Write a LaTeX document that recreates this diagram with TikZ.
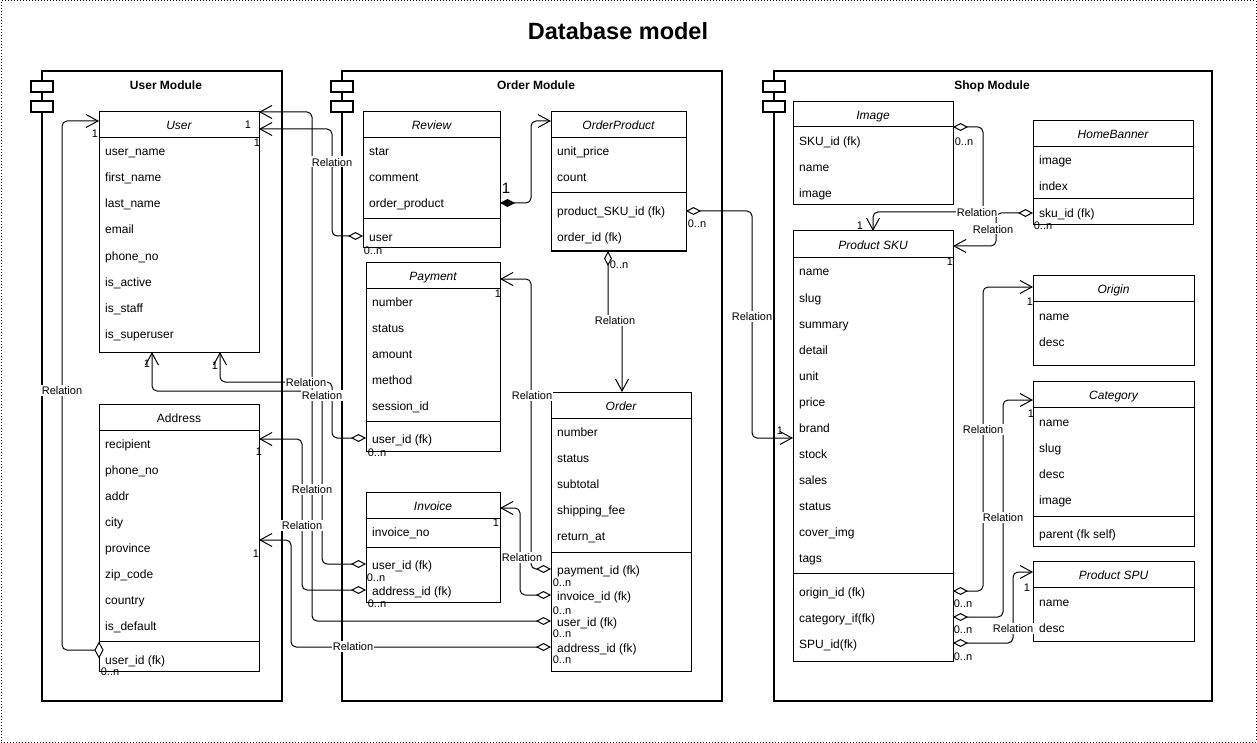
\documentclass[tikz,border=0pt]{standalone}
\usepackage{fontspec}
\setmainfont{Liberation Sans}
\usetikzlibrary{arrows.meta,calc}

\tikzset{
  frame/.style={draw, dotted, line width=1pt, outer sep=0pt, inner sep=0pt},
  modbox/.style={draw, line width=2pt, outer sep=0pt, inner sep=0pt},
  modlbl/.style={font=\fontsize{12}{14}\selectfont\bfseries, inner sep=0pt, text height=11pt, text depth=1pt},
  icon/.style={draw, fill=white, line width=1.5pt, minimum width=22pt, minimum height=11pt, inner sep=0pt},
  clsbox/.style={draw, line width=1pt, fill=white, outer sep=0pt, inner sep=0pt},
  clsline/.style={line width=1pt},
  ttl/.style={font=\fontsize{12}{14}\selectfont\itshape, inner sep=0pt, text height=11pt, text depth=1pt},
  attr/.style={anchor=west, inner sep=0pt, font=\fontsize{12}{14}\selectfont, text height=11pt, text depth=1pt},
  rel/.style={fill=white, inner ysep=0.5pt, inner xsep=1pt, font=\fontsize{11}{13}\selectfont, text height=9.5pt, text depth=0.5pt},
  mult/.style={inner sep=0pt, font=\fontsize{11}{13}\selectfont, text height=9.5pt, text depth=0.5pt},
  conn/.style={draw, line width=1pt, rounded corners=5pt},
  agg/.style={conn, {Diamond[open, length=15pt, width=8pt]}-{Straight Barb[length=12pt, width=13pt]}},
  comp/.style={conn, {Diamond[length=15pt, width=8pt]}-{Straight Barb[length=12pt, width=13pt]}},
  barb/.style={conn, -{Straight Barb[length=12pt, width=13pt]}},
}

\newcommand\umlcls[7]{%
  \node[clsbox, minimum width=#4pt, minimum height=#5pt, anchor=north west] (#1) at (#2,#3) {};
  \node[ttl] (#1-title) at ($(#1.north)+(0,#6/2)$) {#7};
  \draw[clsline] ($(#1.north west)+(0,#6)$) -- ($(#1.north east)+(0,#6)$);
}
\newcommand\umlsep[2]{\draw[clsline] ($(#1.north west)+(0,#2)$) -- ($(#1.north east)+(0,#2)$);}
\newcommand\umlrows[3]{\foreach \ky/\yy/\txt in {#3}{\node[attr] (#1-\ky) at (#2,\yy) {\txt};}}

\begin{document}
\begin{tikzpicture}[x=1pt,y=-1pt]
\useasboundingbox (0,0) rectangle (1257,743);
\node[frame, minimum width=1255pt, minimum height=741pt, anchor=north west] (frm) at (1,1) {};
\node[font=\fontsize{23.5}{28}\selectfont\bfseries, inner sep=0pt] (title) at (618,31) {Database model};

% modules
\node[modbox, minimum width=240pt, minimum height=630pt, anchor=north west] (UM) at (42,71) {};
\node[modbox, minimum width=380pt, minimum height=630pt, anchor=north west] (OM) at (342,71) {};
\node[modbox, minimum width=438pt, minimum height=630pt, anchor=north west] (SM) at (774,71) {};
\foreach \m in {UM,OM,SM}{
  \node[icon] (\m-i1) at ($(\m.north west)+(0,15.5)$) {};
  \node[icon] (\m-i2) at ($(\m.north west)+(0,35.5)$) {};
}
\node[modlbl] (UM-l) at (166,85) {User Module};
\node[modlbl] (OM-l) at (536,85) {Order Module};
\node[modlbl] (SM-l) at (992,85) {Shop Module};

% classes
\umlcls{User}{99}{112}{160}{240}{26}{User}
\umlrows{User}{105}{un/151/user\_name, fn/177/first\_name, ln/203/last\_name, em/229/email, ph/255/phone\_no, ia/281/is\_active, is/307/is\_staff, su/333/is\_superuser}

\umlcls{Address}{99}{404}{160}{267}{26}{\upshape Address}
\umlrows{Address}{105}{re/443/recipient, ph/469/phone\_no, ad/495/addr, ci/521/city, pr/547/province, zc/573/zip\_code, co/599/country, de/625/is\_default, user/659/user\_id (fk)}
\umlsep{Address}{237}

\umlcls{Review}{363}{112}{137}{136}{26}{Review}
\umlrows{Review}{369}{st/151/star, co/177/comment, op/203/order\_product, user/236/user}
\umlsep{Review}{107}

\umlcls{Payment}{366}{262}{134}{189}{26}{Payment}
\umlrows{Payment}{372}{nu/301/number, st/327/status, am/353/amount, me/379/method, se/405/session\_id, user/438/user\_id (fk)}
\umlsep{Payment}{159}

\umlcls{Invoice}{366}{492}{134}{110}{26}{Invoice}
\umlrows{Invoice}{372}{no/531/invoice\_no, user/564/user\_id (fk), addr/590/address\_id (fk)}
\umlsep{Invoice}{55}

\umlcls{OrderProduct}{551}{112}{135}{139}{26}{OrderProduct}
\umlrows{OrderProduct}{557}{up/151/unit\_price, ct/177/count, sku/211/product\_SKU\_id (fk), ord/237/order\_id (fk)}
\umlsep{OrderProduct}{81}

\umlcls{Order}{551}{392}{140}{279}{26}{Order}
\umlrows{Order}{557}{nu/431/number, st/457/status, sb/483/subtotal, sf/509/shipping\_fee, ra/535/return\_at, pay/569/payment\_id (fk), inv/595/invoice\_id (fk), user/621/user\_id (fk), addr/647/address\_id (fk)}
\umlsep{Order}{160}

\umlcls{Image}{793}{102}{160}{103}{25}{Image}
\umlrows{Image}{799}{sku/141/SKU\_id (fk), na/167/name, im/193/image}

\umlcls{HomeBanner}{1033}{121}{160}{104}{26}{HomeBanner}
\umlrows{HomeBanner}{1039}{im/160/image, ix/186/index, sku/213/sku\_id (fk)}
\umlsep{HomeBanner}{78}

\umlcls{SKU}{793}{231}{160}{430}{26}{Product SKU}
\umlrows{SKU}{799}{na/271/name, sl/297/slug, su/323/summary, de/349/detail, un/375/unit, pr/401/price, br/427/brand, stk/453/stock, sa/479/sales, st/505/status, cv/531/cover\_img, tg/557/tags, ori/591/origin\_id (fk), cat/617/category\_if(fk), spu/643/SPU\_id(fk)}
\umlsep{SKU}{342}

\umlcls{Origin}{1033}{275}{161}{90}{26}{Origin}
\umlrows{Origin}{1039}{na/315/name, de/341/desc}

\umlcls{Category}{1033}{381}{161}{165}{26}{Category}
\umlrows{Category}{1039}{na/421/name, sl/447/slug, de/473/desc, im/499/image, pa/533/parent (fk self)}
\umlsep{Category}{135}

\umlcls{SPU}{1033}{561}{161}{80}{26}{Product SPU}
\umlrows{SPU}{1039}{na/601/name, de/627/desc}

% connectors
\draw[agg] (Review.west |- Review-user) -| (332,129) -- ([yshift=-17pt]User.north east);
\draw[agg] (Order.west |- Order-user) -| (312,112) -- (User.north east);
\draw[agg] (Payment.west |- Payment-user) -| (332,382) -| ([xshift=121pt]User.south west);
\draw[agg] (Invoice.west |- Invoice-user) -| (322,391) -| ([xshift=53pt]User.south west);
\draw[agg] (Invoice.west |- Invoice-addr) -| (302,439) -- ([yshift=-35pt]Address.north east);
\draw[agg] (Order.west |- Order-addr) -| (291,540) -- ([yshift=-136pt]Address.north east);
\coordinate (adu) at ([yshift=21pt]Address.south west);
\draw[barb] ([xshift=-4pt]adu) -| (62,121) -- ([yshift=-9pt]User.north west);
\draw[line width=1pt, fill=white] ([xshift=-4pt]adu) -- ([yshift=7.5pt]adu) -- ([xshift=4pt]adu) -- ([yshift=-7.5pt]adu) -- cycle;
\draw[comp] (Review.east |- Review-op) -| (531,121) -- ([yshift=-9pt]OrderProduct.north west);
\draw[agg] (Order.west |- Order-pay) -| (531,279) -- ([yshift=-17pt]Payment.north east);
\draw[agg] (Order.west |- Order-inv) -| (520,508) -- ([yshift=-16pt]Invoice.north east);
\draw[agg] ([xshift=57pt]OrderProduct.south west) -- (608,320) -| ([xshift=71pt]Order.north west);
\draw[agg] (OrderProduct.east |- OrderProduct-sku) -| (752,438) -- ([yshift=-207pt]SKU.north west);
\draw[agg] ([yshift=-25pt]Image.north east) -| (983,212) -| ([xshift=80pt]SKU.north west);
\draw[agg] (HomeBanner.west |- HomeBanner-sku) -| (996,246) -- ([yshift=-15pt]SKU.north east);
\draw[agg] (SKU.east |- SKU-ori) -| (983,287) -- ([yshift=-12pt]Origin.north west);
\draw[agg] (SKU.east |- SKU-cat) -| (1003,400) -- ([yshift=-19pt]Category.north west);
\draw[agg] (SKU.east |- SKU-spu) -| (1013,572) -- ([yshift=-11pt]SPU.north west);

% relation labels
\node[rel] (L1) at (332,162) {Relation};
\node[rel] (L2) at (312,489) {Relation};
\node[rel] (L3) at (306,382) {Relation};
\node[rel] (L4) at (322,395) {Relation};
\node[rel] (L5) at (302,525) {Relation};
\node[rel] (L6) at (353,646) {Relation};
\node[rel] (L7) at (62,390) {Relation};
\node[rel] (L9) at (532,395) {Relation};
\node[rel] (L10) at (522,557) {Relation};
\node[rel] (L11) at (615,320) {Relation};
\node[rel] (L12) at (752,316) {Relation};
\node[rel] (L13) at (977,212) {Relation};
\node[rel] (L14) at (993,229) {Relation};
\node[rel] (L15) at (983,429) {Relation};
\node[rel] (L16) at (1003,517) {Relation};
\node[rel] (L17) at (1013,628) {Relation};

% multiplicities
\node[mult] (m1) at (248,124) {1};
\node[mult] (m2) at (257,142) {1};
\node[mult] (m3) at (373,250) {0..n};
\node[mult] (m4) at (95,133) {1};
\node[mult] (m5) at (110,671) {0..n};
\node[mult] (m6) at (147,363) {1};
\node[mult] (m7) at (215,365) {1};
\node[mult] (m8) at (259,451) {1};
\node[mult] (m9) at (256,553) {1};
\node[mult] (m10) at (377,452) {0..n};
\node[mult] (m11) at (376,577) {0..n};
\node[mult] (m12) at (377,603) {0..n};
\node[mult] (m13) at (498,293) {1};
\node[mult, font=\fontsize{15}{17}\selectfont, text height=11pt, text depth=0pt] (m14) at (506,188) {1};
\node[mult] (m15) at (697,223) {0..n};
\node[mult] (m16) at (619,264) {0..n};
\node[mult] (m17) at (496,522) {1};
\node[mult] (m18) at (562,582) {0..n};
\node[mult] (m19) at (562,610) {0..n};
\node[mult] (m20) at (562,633) {0..n};
\node[mult] (m21) at (562,659) {0..n};
\node[mult] (m22) at (780,430) {1};
\node[mult] (m23) at (964,141) {0..n};
\node[mult] (m24) at (860,225) {1};
\node[mult] (m25) at (1043,225) {0..n};
\node[mult] (m26) at (950,261) {1};
\node[mult] (m27) at (1030,301) {1};
\node[mult] (m28) at (1031,413) {1};
\node[mult] (m29) at (1027,587) {1};
\node[mult] (m30) at (963,603) {0..n};
\node[mult] (m31) at (963,629) {0..n};
\node[mult] (m32) at (963,656) {0..n};
\end{tikzpicture}
\end{document}
